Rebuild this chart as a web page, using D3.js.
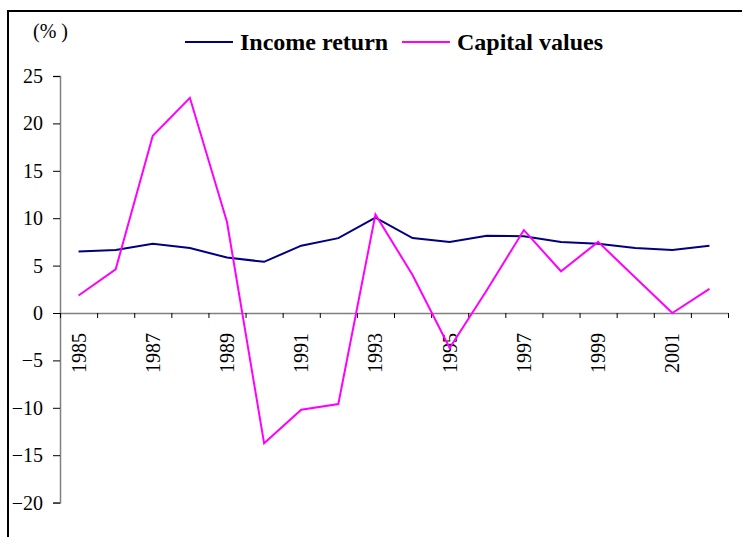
<!DOCTYPE html>
<html>
<head>
<meta charset="utf-8">
<script src="https://cdn.jsdelivr.net/npm/d3@7"></script>
<style>
  body { margin: 0; background: #fff; }
  svg text { font-family: "Liberation Serif", "Times New Roman", serif; fill: #000; }
</style>
</head>
<body>
<svg width="742" height="537"></svg>
<script>
const years = [1985, 1986, 1987, 1988, 1989, 1990, 1991, 1992, 1993, 1994, 1995, 1996, 1997, 1998, 1999, 2000, 2001, 2002];
const incomeReturn = [6.5, 6.65, 7.3, 6.85, 5.85, 5.4, 7.1, 7.9, 10.05, 7.9, 7.5, 8.15, 8.1, 7.5, 7.3, 6.85, 6.65, 7.1];
const capitalValues = [1.85, 4.6, 18.7, 22.7, 9.6, -13.75, -10.2, -9.6, 10.4, 4.0, -3.7, 2.4, 8.75, 4.4, 7.5, 3.75, 0.0, 2.55];
const yTicks = [-20, -15, -10, -5, 0, 5, 10, 15, 20, 25];
const xLabels = [1985, 1987, 1989, 1991, 1993, 1995, 1997, 1999, 2001];
const seriesNames = ["Income return", "Capital values"];
const colors = ["#000080", "#ff00ff"];
const serif = '"Liberation Serif", "Times New Roman", serif';

const svg = d3.select("svg");

// outer frame (runs off the right and bottom edge)
svg.append("rect")
    .attr("x", 8).attr("y", 11)
    .attr("width", 800).attr("height", 600)
    .attr("fill", "none")
    .attr("stroke", "#000")
    .attr("stroke-width", 2);

const left = 60, right = 728;
const x = d3.scaleBand().domain(years).range([left, right]).padding(0);
const xEdge = d3.scaleLinear().domain([0, years.length]).range([left, right]);
const y = d3.scaleLinear().domain([-20, 25]).range([502.6, 76]);

// y axis
const yAxis = svg.append("g")
    .attr("transform", `translate(${left},0)`)
    .call(d3.axisLeft(y).tickValues(yTicks).tickSize(7).tickPadding(10));
yAxis.attr("font-family", serif).attr("font-size", 20);
yAxis.select(".domain").attr("stroke", "#808080").attr("stroke-width", 1.5);
yAxis.selectAll(".tick line").attr("stroke", "#000");
yAxis.selectAll(".tick text").style("font-family", serif).style("font-size", "20px");

// x axis at zero, ticks between categories
const xAxis = svg.append("g")
    .attr("transform", `translate(0,${y(0)})`)
    .call(d3.axisBottom(xEdge).tickValues(d3.range(years.length + 1)).tickFormat("").tickSize(5).tickSizeOuter(0));
xAxis.select(".domain").attr("stroke", "#808080").attr("stroke-width", 1.5);
xAxis.selectAll(".tick line").attr("stroke", "#000");

// rotated year labels
svg.append("g")
    .selectAll("text")
    .data(xLabels)
    .join("text")
        .attr("transform", d => `translate(${x(d) + x.bandwidth() / 2},${y(0) + 20}) rotate(-90)`)
        .attr("text-anchor", "end")
        .attr("dy", "0.35em")
        .style("font-family", serif)
        .style("font-size", "20px")
        .text(d => d);

// lines
const line = d3.line()
    .x((d, i) => x(years[i]) + x.bandwidth() / 2)
    .y(d => y(d));

[incomeReturn, capitalValues].forEach((vals, k) => {
    svg.append("path")
        .datum(vals)
        .attr("fill", "none")
        .attr("stroke", colors[k])
        .attr("stroke-width", 2)
        .attr("d", line);
});

// unit label
svg.append("text")
    .attr("x", 33).attr("y", 38)
    .style("font-family", serif)
    .style("font-size", "20px")
    .text("(% )");

// legend
const legendX = [185, 402];
seriesNames.forEach((name, k) => {
    const g = svg.append("g").attr("transform", `translate(${legendX[k]},42)`);
    g.append("line")
        .attr("x1", 0).attr("x2", 48)
        .attr("stroke", colors[k]).attr("stroke-width", 2);
    g.append("text")
        .attr("x", 55).attr("dy", "0.33em")
        .style("font-family", serif)
        .style("font-size", "24px")
        .style("font-weight", "bold")
        .text(name);
});
</script>
</body>
</html>
